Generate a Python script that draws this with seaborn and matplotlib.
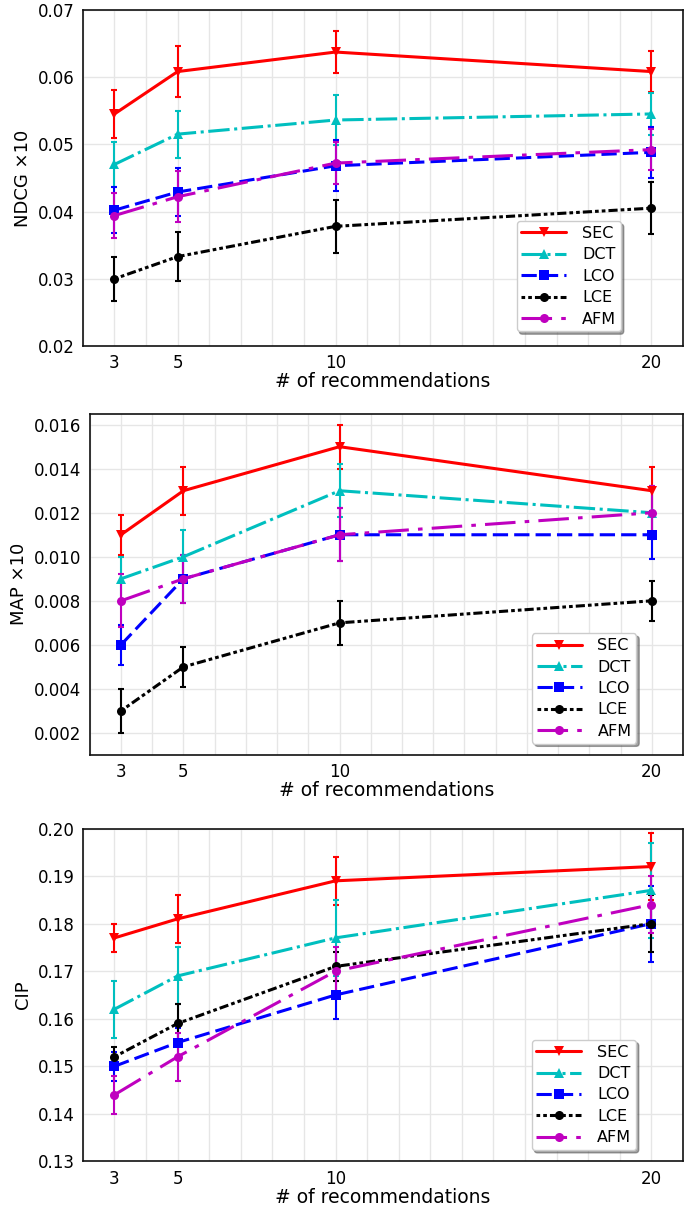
import numpy as np
import matplotlib
matplotlib.use("Agg")
import matplotlib.pyplot as plt
from matplotlib.ticker import MultipleLocator, FormatStrFormatter
import seaborn as sns

# --- data ---
k_values = [3, 5, 10, 20]
methods = ["SEC", "DCT", "LCO", "LCE", "AFM"]

ndcg_mean = {
    "SEC": [0.0545, 0.0608, 0.0637, 0.0608],
    "DCT": [0.0470, 0.0515, 0.0536, 0.0545],
    "LCO": [0.0402, 0.0429, 0.0468, 0.0488],
    "LCE": [0.0300, 0.0333, 0.0378, 0.0405],
    "AFM": [0.0394, 0.0422, 0.0472, 0.0492],
}
ndcg_err = {
    "SEC": [0.0035, 0.0038, 0.0031, 0.0030],
    "DCT": [0.0033, 0.0035, 0.0037, 0.0031],
    "LCO": [0.0034, 0.0036, 0.0038, 0.0038],
    "LCE": [0.0033, 0.0036, 0.0039, 0.0039],
    "AFM": [0.0034, 0.0038, 0.0031, 0.0031],
}

map_mean = {
    "SEC": [0.011, 0.013, 0.015, 0.013],
    "DCT": [0.009, 0.010, 0.013, 0.012],
    "LCO": [0.006, 0.009, 0.011, 0.011],
    "LCE": [0.003, 0.005, 0.007, 0.008],
    "AFM": [0.008, 0.009, 0.011, 0.012],
}
map_err = {
    "SEC": [0.0009, 0.0011, 0.0010, 0.0011],
    "DCT": [0.0010, 0.0012, 0.0012, 0.0012],
    "LCO": [0.0009, 0.0011, 0.0012, 0.0011],
    "LCE": [0.0010, 0.0009, 0.0010, 0.0009],
    "AFM": [0.0012, 0.0011, 0.0012, 0.0012],
}

cip_mean = {
    "SEC": [0.177, 0.181, 0.189, 0.192],
    "DCT": [0.162, 0.169, 0.177, 0.187],
    "LCO": [0.150, 0.155, 0.165, 0.180],
    "LCE": [0.152, 0.159, 0.171, 0.180],
    "AFM": [0.144, 0.152, 0.170, 0.184],
}
cip_err = {
    "SEC": [0.003, 0.005, 0.005, 0.007],
    "DCT": [0.006, 0.006, 0.008, 0.010],
    "LCO": [0.003, 0.003, 0.005, 0.008],
    "LCE": [0.002, 0.004, 0.003, 0.006],
    "AFM": [0.004, 0.005, 0.005, 0.006],
}

# --- styles ---
colors = {"SEC": "#ff0000", "DCT": "#00bfbf", "LCO": "#0000ff", "LCE": "#000000", "AFM": "#bf00bf"}
markers = {"SEC": "v", "DCT": "^", "LCO": "s", "LCE": "o", "AFM": "o"}
styles = {
    "SEC": "-",
    "DCT": (0, (7, 1.5, 1, 1.5)),
    "LCO": (0, (5, 2)),
    "LCE": (0, (1.2, 1, 1.2, 1, 3, 1)),
    "AFM": (0, (10, 3, 1.5, 3)),
}

sns.set_theme(style="whitegrid")
plt.rcParams["font.family"] = ["DejaVu Sans"]

fig = plt.figure(figsize=(6.85, 12.06), dpi=100)

# (means, errors, ylabel, ylim, y step, tick format, axes rect, legend anchor)
panels = [
    (ndcg_mean, ndcg_err, "NDCG \u00d710", (0.02, 0.07), 0.01, "%.2f",
     [0.121, 0.713, 0.876, 0.279], (0.91, 0.02)),
    (map_mean, map_err, "MAP \u00d710", (0.001, 0.0165), 0.002, "%.3f",
     [0.131, 0.374, 0.866, 0.283], (0.935, 0.01)),
    (cip_mean, cip_err, "CIP", (0.13, 0.20), 0.01, "%.2f",
     [0.121, 0.037, 0.876, 0.276], (0.935, 0.01)),
]

for means, errs, ylab, ylim, ystep, fmt, rect, anchor in panels:
    ax = fig.add_axes(rect)
    for m in methods:
        sns.lineplot(x=k_values, y=means[m], ax=ax, color=colors[m], marker=markers[m],
                     markersize=6.5, markeredgewidth=0, linewidth=2.2, linestyle=styles[m],
                     label=m, zorder=3)
        ax.errorbar(k_values, means[m], yerr=errs[m], fmt="none", ecolor=colors[m],
                    elinewidth=1.5, capsize=2, capthick=1.5, zorder=2)
    ax.set_xlim(2, 21)
    ax.set_ylim(*ylim)
    ax.set_xticks(k_values)
    ax.xaxis.set_minor_locator(MultipleLocator(1))
    ax.yaxis.set_major_locator(MultipleLocator(ystep))
    ax.yaxis.set_major_formatter(FormatStrFormatter(fmt))
    ax.grid(True, which="both", color="#e6e6e6", linewidth=1)
    ax.tick_params(axis="both", which="major", labelsize=12, labelcolor="black", length=0, pad=6)
    ax.tick_params(axis="x", which="minor", length=0)
    for s in ax.spines.values():
        s.set_color("#111111")
        s.set_linewidth(1.2)
    ax.set_xlabel("# of recommendations", fontsize=13.5, color="black", labelpad=0)
    ax.set_ylabel(ylab, fontsize=13, color="black", labelpad=4)
    leg = ax.legend(loc="lower right", bbox_to_anchor=anchor, fontsize=11.5, frameon=True,
                    shadow=True, fancybox=True, handlelength=2.8, borderpad=0.3,
                    labelspacing=0.4, handletextpad=1.0)
    leg.get_frame().set_edgecolor("#cccccc")
    leg.get_frame().set_facecolor("white")
    leg.get_frame().set_alpha(1)
    for t in leg.get_texts():
        t.set_color("black")

fig.savefig("out.png", dpi=100)
